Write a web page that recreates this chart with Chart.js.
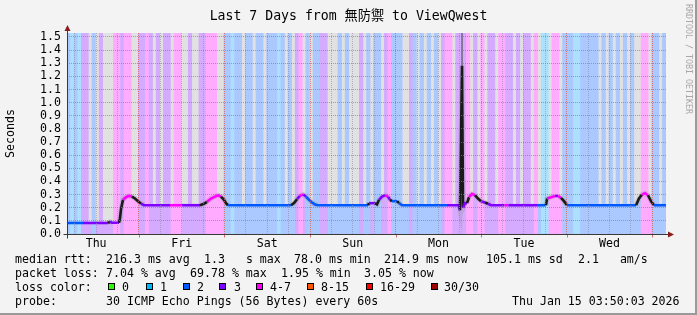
<!DOCTYPE html>
<html>
<head>
<meta charset="utf-8">
<script src="https://cdn.jsdelivr.net/npm/chart.js@4/dist/chart.umd.min.js"></script>
<style>
  html, body { margin: 0; padding: 0; background: #f3f3f3; }
  #wrap { position: relative; width: 697px; height: 315px; background: #f3f3f3; overflow: hidden; }
  #c { position: absolute; left: 0; top: 0; }
  .t { position: absolute; font-family: 'DejaVu Sans Mono', monospace; font-size: 11.6px; line-height: 14px; white-space: pre; color: #000; }
  .box { position: absolute; width: 5px; height: 5px; border: 1px solid #000; }
  #title { position: absolute; left: 0; top: 8px; width: 697px; text-align: center; font-family: 'DejaVu Sans Mono', 'Noto Sans CJK SC', monospace; font-size: 13.2px; line-height: 16px; white-space: pre; color: #000; }
  #rrd { position: absolute; left: 684px; top: 4px; writing-mode: vertical-rl; font-family: 'DejaVu Sans Mono', monospace; font-size: 8.3px; line-height: 9px; color: #a8a8a8; white-space: pre; }
  #frame { position: absolute; left: 0; top: 0; width: 695px; height: 313px; border-right: 2px solid #9a9a9a; border-bottom: 2px solid #9a9a9a; pointer-events: none; }
</style>
</head>
<body>
<div id="wrap">
  <canvas id="c" width="697" height="315"></canvas>
  <div id="title"></div>

  <div class="t" style="left:15px;top:252px">median rtt:</div>
  <div class="t" style="left:106px;top:252px">216.3 ms avg</div>
  <div class="t" style="left:204px;top:252px">1.3   s max</div>
  <div class="t" style="left:294px;top:252px">78.0 ms min</div>
  <div class="t" style="left:384px;top:252px">214.9 ms now</div>
  <div class="t" style="left:486px;top:252px">105.1 ms sd</div>
  <div class="t" style="left:578px;top:252px">2.1   am/s</div>

  <div class="t" style="left:15px;top:266px">packet loss:</div>
  <div class="t" style="left:106px;top:266px">7.04 % avg</div>
  <div class="t" style="left:190px;top:266px">69.78 % max</div>
  <div class="t" style="left:281px;top:266px">1.95 % min</div>
  <div class="t" style="left:364px;top:266px">3.05 % now</div>

  <div class="t" style="left:15px;top:280px">loss color:</div>
  <div class="box" style="left:108px;top:283px;background:#26ff00"></div><div class="t" style="left:122px;top:280px">0</div>
  <div class="box" style="left:146px;top:283px;background:#00b8ff"></div><div class="t" style="left:160px;top:280px">1</div>
  <div class="box" style="left:183px;top:283px;background:#0059ff"></div><div class="t" style="left:197px;top:280px">2</div>
  <div class="box" style="left:219px;top:283px;background:#7e00ff"></div><div class="t" style="left:234px;top:280px">3</div>
  <div class="box" style="left:256px;top:283px;background:#ff00ff"></div><div class="t" style="left:270px;top:280px">4-7</div>
  <div class="box" style="left:307px;top:283px;background:#ff5500"></div><div class="t" style="left:321px;top:280px">8-15</div>
  <div class="box" style="left:366px;top:283px;background:#ff0000"></div><div class="t" style="left:380px;top:280px">16-29</div>
  <div class="box" style="left:431px;top:283px;background:#a00000"></div><div class="t" style="left:444px;top:280px">30/30</div>

  <div class="t" style="left:15px;top:294px">probe:</div>
  <div class="t" style="left:106px;top:294px">30 ICMP Echo Pings (56 Bytes) every 60s</div>
  <div class="t" style="left:512px;top:294px">Thu Jan 15 03:50:03 2026</div>

  <div id="rrd">RRDTOOL / TOBI OETIKER</div>
  <div id="frame"></div>
</div>

<script>
// ---------------- data (hours since Thu Jan 8 03:50) ----------------
const titleText = 'Last 7 Days from 無防禦 to ViewQwest';
const dayLabels = ['Thu', 'Fri', 'Sat', 'Sun', 'Mon', 'Tue', 'Wed'];
const dayNoonHours = [8.17, 32.17, 56.17, 80.17, 104.17, 128.17, 152.17];
const midnightHours = [20.17, 44.17, 68.17, 92.17, 116.17, 140.17, 164.17];
const gridHours = [2.17, 8.17, 14.17, 20.17, 26.17, 32.17, 38.17, 44.17, 50.17, 56.17,
  62.17, 68.17, 74.17, 80.17, 86.17, 92.17, 98.17, 104.17, 110.17, 116.17, 122.17,
  128.17, 134.17, 140.17, 146.17, 152.17, 158.17, 164.17];
const yTickValues = [0.0, 0.1, 0.2, 0.3, 0.4, 0.5, 0.6, 0.7, 0.8, 0.9, 1.0, 1.1, 1.2, 1.3, 1.4, 1.5];

// loss band per hour: 0 none, 1 = "1", 2 = "2", 3 = "3", 4 = "4-7"
const lossBand = [
  2,1,2,1,3,3,0,2,0,3, 0,0,0,4,4,3,4,4,0,0, 3,3,4,3,0,3,0,3,3,0,
  4,4,0,0,3,0,0,3,3,4, 4,4,0,0,2,2,1,2,2,0, 2,2,0,2,2,0,2,2,2,1,
  2,0,2,0,3,4,0,2,0,2, 2,3,3,0,0,0,2,0,2,0, 0,0,3,0,2,0,2,2,0,3,
  4,2,2,2,0,0,3,2,0,2, 0,2,0,2,0,3,4,4,0,3, 3,3,4,0,3,0,4,0,3,3,
  0,4,4,3,3,0,3,0,3,3, 0,4,0,1,1,0,4,4,0,2, 2,2,1,1,2,2,2,2,2,0,
  2,0,2,0,2,0,2,0,2,0, 0,4,4,0,2,2,0,2
];

// median rtt (seconds) at read-off times, with loss colour of the segment that starts there
const medianHours = [0, 4.49, 11.50, 12.06, 12.62, 14.58, 14.86, 15.15, 15.71, 16.55, 17.39,
  18.23, 19.07, 19.91, 20.75, 21.60, 28.89, 32.25, 37.30, 38.42, 39.27, 40.39, 41.51,
  42.35, 43.19, 44.03, 44.59, 45.16, 62.83, 63.67, 64.51, 65.35, 66.19, 67.03, 67.87,
  68.72, 69.56, 70.40, 84.42, 84.70, 86.38, 86.95, 87.51, 88.35, 89.19, 90.03, 90.59,
  91.15, 92.56, 93.12, 93.96, 104.90, 106.58, 109.94, 110.22, 110.79, 111.07, 111.63,
  112.19, 112.75, 113.59, 114.43, 115.27, 116.11, 117.23, 118.08, 118.92, 122.70, 123.80,
  131.82, 134.34, 134.63, 135.75, 136.87, 137.71, 138.55, 139.39, 140.24, 159.59, 160.43,
  161.27, 162.11, 162.95, 163.79, 164.63, 168.0];
const medianSeconds = [0.084, 0.084, 0.084, 0.093, 0.086, 0.086, 0.12, 0.19, 0.26, 0.28, 0.29,
  0.285, 0.27, 0.25, 0.232, 0.219, 0.219, 0.219, 0.219, 0.23, 0.245, 0.27, 0.285,
  0.295, 0.285, 0.26, 0.235, 0.219, 0.219, 0.235, 0.265, 0.29, 0.302, 0.285, 0.26,
  0.24, 0.225, 0.219, 0.219, 0.235, 0.235, 0.225, 0.26, 0.285, 0.295, 0.285, 0.26,
  0.25, 0.25, 0.235, 0.219, 0.219, 0.219, 0.219, 0.18, 1.28, 0.20, 0.235,
  0.235, 0.28, 0.305, 0.295, 0.27, 0.25, 0.24, 0.23, 0.219, 0.219, 0.219,
  0.219, 0.219, 0.27, 0.28, 0.29, 0.29, 0.275, 0.25, 0.219, 0.219, 0.27,
  0.30, 0.31, 0.295, 0.25, 0.219, 0.219];
const medianLoss = ['b', 'p', 'k', 'p', 'p', 'k', 'k', 'k', 'm', 'm', 'm',
  'k', 'k', 'k', 'p', 'p', 'm', 'p', 'k', 'k', 'm', 'm', 'm',
  'm', 'k', 'k', 'k', 'b', 'k', 'k', 'p', 'm', 'p', 'b', 'b',
  'b', 'b', 'b', 'k', 'p', 'k', 'k', 'p', 'p', 'm', 'p', 'k',
  'b', 'k', 'b', 'b', 'b', 'p', 'p', 'k', 'k', 'p', 'p',
  'k', 'm', 'm', 'k', 'k', 'p', 'k', 'p', 'p', 'm', 'p',
  'b', 'k', 'm', 'm', 'p', 'm', 'k', 'k', 'b', 'k', 'k',
  'm', 'm', 'k', 'k', 'b', 'b'];

// smoke reaching above the median spike on Monday
const spikeSmokeHours = [110.79, 110.79];
const spikeSmokeSeconds = [1.28, 1.53];

// ---------------- styling ----------------
document.getElementById('title').textContent = titleText;
const lineColors = { b: '#0059ff', p: '#7e00ff', m: '#ff00ff', c: '#00b8ff', k: '#1a1a1a' };
const fillColors = { b: '#abc8ff', p: '#d4abff', m: '#ffabff', c: '#abe0ff' };
const bandColors = [null, '#abe0ff', '#abc8ff', '#d4abff', '#ffabff'];
const monoFont = "'DejaVu Sans Mono', 'Noto Sans CJK SC', monospace";
const Y_TOP = 1.53;

function fillCodeAt(i) {
  let j = i;
  while (j > 0 && medianLoss[j] === 'k') j--;
  const c = medianLoss[j] === 'k' ? 'p' : medianLoss[j];
  return fillColors[c];
}

const medianPts = medianHours.map((h, i) => ({ x: h, y: medianSeconds[i] }));
const bandPts = lossBand.map((c, i) => ({ x: i + 0.5, y: c ? Y_TOP : null }));
const spikePts = spikeSmokeHours.map((h, i) => ({ x: h, y: spikeSmokeSeconds[i] }));

const plotBg = {
  id: 'plotBg',
  beforeDraw(chart) {
    const { ctx, chartArea: a } = chart;
    ctx.save();
    ctx.fillStyle = '#e1e1e1';
    ctx.fillRect(a.left, a.top, a.right - a.left, a.bottom - a.top);
    ctx.restore();
  }
};

const axesPlugin = {
  id: 'axesPlugin',
  afterDraw(chart) {
    const { ctx, chartArea: a, scales } = chart;
    const x0 = Math.round(a.left) + 0.5;
    const y0 = Math.round(scales.y.getPixelForValue(0)) + 0.5;
    ctx.save();
    ctx.strokeStyle = '#d07070';
    ctx.lineWidth = 1;
    midnightHours.forEach(h => {
      const px = Math.round(scales.x.getPixelForValue(h)) + 0.5;
      ctx.beginPath(); ctx.moveTo(px, y0); ctx.lineTo(px, y0 + 3); ctx.stroke();
    });
    ctx.strokeStyle = '#3a3a3a';
    ctx.beginPath();
    ctx.moveTo(x0, a.top - 4); ctx.lineTo(x0, y0 + 4);
    ctx.moveTo(x0 - 4, y0); ctx.lineTo(a.right + 4, y0);
    ctx.stroke();
    ctx.fillStyle = '#8b1c1c';
    ctx.beginPath();
    ctx.moveTo(x0 - 3, a.top - 2); ctx.lineTo(x0 + 3, a.top - 2); ctx.lineTo(x0, a.top - 8); ctx.closePath(); ctx.fill();
    ctx.beginPath();
    ctx.moveTo(a.right + 2, y0 - 3); ctx.lineTo(a.right + 2, y0 + 3); ctx.lineTo(a.right + 8, y0); ctx.closePath(); ctx.fill();
    ctx.restore();
  }
};

new Chart(document.getElementById('c'), {
  data: {
    datasets: [
      {
        type: 'line', label: 'median fill', data: medianPts, order: 5,
        borderWidth: 0, pointRadius: 0, fill: 'origin', tension: 0,
        backgroundColor: '#abc8ff',
        segment: { backgroundColor: ctx => fillCodeAt(ctx.p0DataIndex) }
      },
      {
        type: 'bar', label: 'loss band', data: bandPts, order: 4,
        backgroundColor: ctx => bandColors[lossBand[ctx.dataIndex]] || 'transparent',
        borderWidth: 0, barPercentage: 1, categoryPercentage: 1, inflateAmount: 0.3
      },
      {
        type: 'line', label: 'smoke', data: medianPts, order: 3,
        borderWidth: 5, pointRadius: 0, fill: false, tension: 0,
        borderColor: 'rgba(140,140,140,0.28)',
        segment: { borderColor: ctx => (ctx.p0.parsed.y === ctx.p1.parsed.y ? 'transparent' : 'rgba(140,140,140,0.28)') }
      },
      {
        type: 'line', label: 'spike smoke', data: spikePts, order: 2,
        borderWidth: 1.2, pointRadius: 0, fill: false, borderColor: '#555555'
      },
      {
        type: 'line', label: 'median rtt', data: medianPts, order: 1,
        borderWidth: 2.6, pointRadius: 0, fill: false, tension: 0,
        borderColor: '#0059ff', borderJoinStyle: 'miter', borderCapStyle: 'butt',
        segment: { borderColor: ctx => lineColors[medianLoss[ctx.p0DataIndex]] }
      }
    ]
  },
  options: {
    responsive: false,
    devicePixelRatio: 1,
    animation: false,
    events: [],
    layout: { padding: { left: 0, top: 33, right: 31, bottom: 61 } },
    plugins: {
      legend: { display: false },
      tooltip: { enabled: false },
      title: { display: false }
    },
    scales: {
      x: {
        type: 'linear', min: 0, max: 168, offset: false,
        afterBuildTicks: s => { s.ticks = dayNoonHours.map(v => ({ value: v })); },
        ticks: { autoSkip: false, maxRotation: 0, padding: 3, color: '#000',
          font: { family: monoFont, size: 11.6 },
          callback: (v, i) => dayLabels[i] },
        grid: { display: false, drawTicks: false, offset: false },
        border: { display: false },
        afterFit: s => { s.height = 20; }
      },
      xg: {
        type: 'linear', position: 'bottom', min: 0, max: 168, offset: false,
        afterBuildTicks: s => { s.ticks = gridHours.map(v => ({ value: v })); },
        ticks: { display: false },
        grid: {
          drawTicks: false, z: 1, lineWidth: 1, offset: false,
          color: ctx => (ctx.tick && midnightHours.includes(ctx.tick.value)) ? 'rgba(225,90,90,0.75)' : 'rgba(140,140,165,0.6)'
        },
        border: { display: false, dash: [1, 1] },
        afterFit: s => { s.height = 0; }
      },
      y: {
        min: 0, max: Y_TOP,
        afterBuildTicks: s => { s.ticks = yTickValues.map(v => ({ value: v })); },
        ticks: { autoSkip: false, padding: 6, color: '#000', font: { family: monoFont, size: 11.6 },
          callback: v => Number(v).toFixed(1) },
        grid: { drawTicks: false, z: 1, lineWidth: 1, color: 'rgba(225,90,90,0.7)' },
        border: { display: false, dash: [1, 1] },
        title: { display: true, text: 'Seconds', color: '#000',
          font: { family: monoFont, size: 11.6 }, padding: { top: 4, bottom: 0 } },
        afterFit: s => { s.width = 67; }
      }
    }
  },
  plugins: [plotBg, axesPlugin]
});
</script>
</body>
</html>
